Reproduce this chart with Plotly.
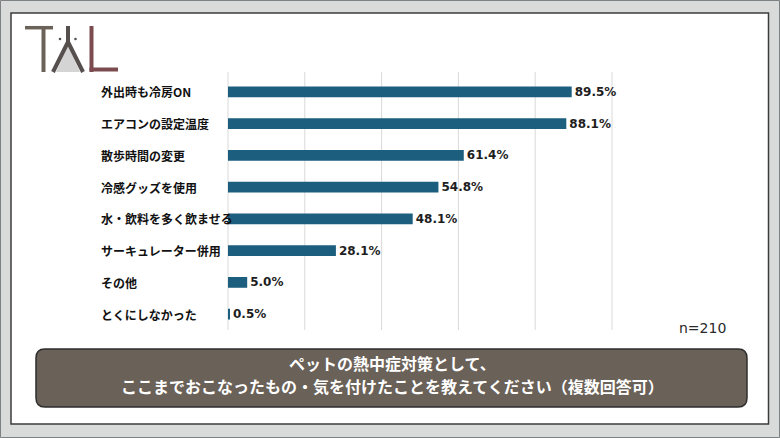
import plotly.graph_objects as go

categories = ["外出時も冷房ON", "エアコンの設定温度", "散歩時間の変更", "冷感グッズを使用",
              "水・飲料を多く飲ませる", "サーキュレーター併用", "その他", "とくにしなかった"]
values = [89.5, 88.1, 61.4, 54.8, 48.1, 28.1, 5.0, 0.5]
x_ticks = [0, 20, 40, 60, 80, 100]
title_lines = ["ペットの熱中症対策として、",
               "ここまでおこなったもの・気を付けたことを教えてください（複数回答可）"]
n_label = "n=210"

W, H = 780, 438
ML, MR, MT, MB = 227, 167, 76, 108
PW, PH = W - ML - MR, H - MT - MB


def px(x):
    return (x - ML) / PW


def py(y):
    return (H - MB - y) / PH


JP = "Noto Sans CJK JP"
BAR = "#1b5e7e"

fig = go.Figure()
fig.add_trace(go.Bar(
    x=values, y=categories, orientation="h",
    marker=dict(color=BAR, line=dict(width=0)),
    width=0.34,
    texttemplate="%{x:.1f}%", textposition="outside",
    textfont=dict(family="DejaVu Sans", size=12, color="#1e1e1e", weight="bold"),
    cliponaxis=False, constraintext="none",
    hoverinfo="skip",
))

shapes = []
# outer frame
shapes.append(dict(type="rect", xref="paper", yref="paper",
                   x0=px(0.5), x1=px(779.5), y0=py(0.5), y1=py(437.5),
                   line=dict(color="#7c8283", width=1), fillcolor="rgba(0,0,0,0)", layer="below"))
# white panel
shapes.append(dict(type="rect", xref="paper", yref="paper",
                   x0=px(11), x1=px(768.5), y0=py(13), y1=py(424),
                   line=dict(color="#3c3c3c", width=1.5), fillcolor="white", layer="below"))
# vertical gridlines at the x tick values
for t in x_ticks:
    shapes.append(dict(type="line", xref="x", yref="paper", x0=t, x1=t,
                       y0=py(72), y1=py(330), line=dict(color="#d9d9d9", width=1),
                       layer="below"))

# rounded title box
x0, x1, y0, y1, r = 36, 747, 349, 407, 9


def P(x, y):
    return f"{px(x):.5f},{py(y):.5f}"


path = (f"M {P(x0 + r, y0)} L {P(x1 - r, y0)} Q {P(x1, y0)} {P(x1, y0 + r)} "
        f"L {P(x1, y1 - r)} Q {P(x1, y1)} {P(x1 - r, y1)} "
        f"L {P(x0 + r, y1)} Q {P(x0, y1)} {P(x0, y1 - r)} "
        f"L {P(x0, y0 + r)} Q {P(x0, y0)} {P(x0 + r, y0)} Z")
shapes.append(dict(type="path", xref="paper", yref="paper", path=path,
                   fillcolor="#6a6158", line=dict(color="#2e2e2e", width=1.5), layer="above"))

# logo TAL
T_C = "#6b6259"
A_C = "#55504d"
L_C = "#7b4b50"


def seg(xa, ya, xb, yb, color, w=4):
    return dict(type="line", xref="paper", yref="paper",
                x0=px(xa), y0=py(ya), x1=px(xb), y1=py(yb),
                line=dict(color=color, width=w), layer="above")


shapes.append(dict(type="path", xref="paper", yref="paper",
                   path=f"M {P(68, 46)} L {P(56, 72)} L {P(80, 72)} Z",
                   fillcolor="#d4d4d4", line=dict(width=0), layer="above"))
shapes.append(seg(25, 27.7, 53, 27.7, T_C, 3.5))
shapes.append(seg(43.5, 26, 43.5, 72, T_C, 4))
shapes.append(seg(68, 26, 68, 43, A_C, 4))
shapes.append(seg(68, 42, 53, 72, A_C, 4))
shapes.append(seg(68, 42, 83, 72, A_C, 4))
for cx in (60, 75.5):
    shapes.append(dict(type="circle", xref="paper", yref="paper",
                       x0=px(cx - 1.3), x1=px(cx + 1.3), y0=py(39 - 1.3), y1=py(39 + 1.3),
                       fillcolor=A_C, line=dict(width=0), layer="above"))
shapes.append(seg(91.5, 26, 91.5, 72, L_C, 4))
shapes.append(seg(89.5, 69.5, 118, 69.5, L_C, 4))

annotations = []
for c in categories:
    annotations.append(dict(x=px(99), xref="paper", y=c, yref="y", text=c,
                            xanchor="left", yanchor="middle", showarrow=False,
                            font=dict(family=JP, size=12, color="#111111", weight="bold")))
annotations.append(dict(x=px(728), y=py(328), xref="paper", yref="paper", text=n_label,
                        xanchor="right", yanchor="middle", showarrow=False,
                        font=dict(family="DejaVu Sans", size=14, color="#2a2a2a")))
for ty, t in zip((363, 386), title_lines):
    annotations.append(dict(x=px(392), y=py(ty), xref="paper", yref="paper", text=t,
                            xanchor="center", yanchor="middle", showarrow=False,
                            font=dict(family=JP, size=16, color="white", weight="bold")))

fig.update_layout(
    width=W, height=H, margin=dict(l=ML, r=MR, t=MT, b=MB),
    paper_bgcolor="#d9dbdb", plot_bgcolor="rgba(0,0,0,0)",
    showlegend=False, bargap=0.66,
    xaxis=dict(range=[-0.26, 100.26], tickvals=x_ticks, showticklabels=False,
               showgrid=False, zeroline=False,
               showline=False, ticks="", fixedrange=True),
    yaxis=dict(categoryorder="array", categoryarray=categories, autorange="reversed",
               showticklabels=False, showgrid=False, zeroline=False, showline=False,
               ticks="", fixedrange=True),
    shapes=shapes, annotations=annotations,
)

fig.write_html("out.html", config={"displayModeBar": False})
